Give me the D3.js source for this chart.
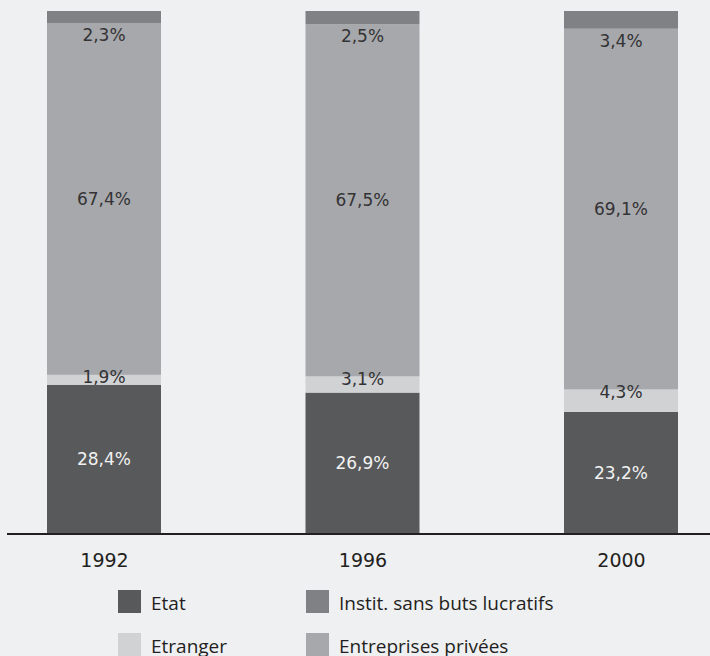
<!DOCTYPE html>
<html><head><meta charset="utf-8">
<script src="https://cdn.jsdelivr.net/npm/d3@7"></script>
<style>
html,body{margin:0;padding:0;background:#eff0f2;}
svg{display:block;}
</style></head>
<body>
<svg id="chart" width="710" height="656"></svg>
<script>
const years = ["1992", "1996", "2000"];
const etat = [28.4, 26.9, 23.2];
const etranger = [1.9, 3.1, 4.3];
const entreprises = [67.4, 67.5, 69.1];
const instit = [2.3, 2.5, 3.4];
const seriesNames = ["Etat", "Etranger", "Entreprises privées", "Instit. sans buts lucratifs"];
const colors = ["#58595b", "#d1d2d4", "#a7a8ab", "#808184"];

const rows = years.map((y, i) => ({
  year: y,
  "Etat": etat[i],
  "Etranger": etranger[i],
  "Entreprises privées": entreprises[i],
  "Instit. sans buts lucratifs": instit[i]
}));

const svg = d3.select("#chart");
const x = d3.scalePoint().domain(years).range([104, 621]);
const barW = 114;
const y = d3.scaleLinear().domain([0, 100]).range([533, 11]);
const stack = d3.stack().keys(seriesNames)(rows);
const fmt = v => d3.format(".1f")(v).replace(".", ",") + "%";
const font = "'DejaVu Sans', sans-serif";

stack.forEach((layer, li) => {
  const g = svg.append("g");
  g.selectAll("rect").data(layer).join("rect")
    .attr("x", d => x(d.data.year) - barW / 2)
    .attr("y", d => y(d[1]))
    .attr("width", barW)
    .attr("height", d => y(d[0]) - y(d[1]))
    .attr("fill", colors[li]);
});

stack.forEach((layer, li) => {
  const key = seriesNames[li];
  svg.append("g").selectAll("text").data(layer).join("text")
    .attr("x", d => x(d.data.year))
    .attr("y", d => {
      if (key === "Instit. sans buts lucratifs") return y(d[0]) + 12;
      if (key === "Etranger") return Math.min((y(d[0]) + y(d[1])) / 2, y(d[1]) + 2);
      return (y(d[0]) + y(d[1])) / 2;
    })
    .attr("dy", "0.36em")
    .attr("text-anchor", "middle")
    .attr("font-family", font)
    .attr("font-size", 17)
    .attr("fill", key === "Etat" ? "#f2f2f2" : "#333335")
    .text(d => fmt(d.data[key]));
});

// baseline
svg.append("line").attr("x1", 7).attr("x2", 710)
  .attr("y1", y(0) + 1).attr("y2", y(0) + 1)
  .attr("stroke", "#231f20").attr("stroke-width", 2);

// x axis labels
const xAxis = d3.axisBottom(x).tickSize(0).tickPadding(0);
const ax = svg.append("g").attr("transform", `translate(0,${y(0)})`).call(xAxis);
ax.select(".domain").remove();
ax.selectAll("text")
  .attr("y", 27).attr("dy", "0.36em")
  .attr("font-family", font).attr("font-size", 19).attr("fill", "#231f20");

// legend
const legendItems = [
  {name: "Etat", col: 0, row: 0, c: colors[0]},
  {name: "Instit. sans buts lucratifs", col: 1, row: 0, c: colors[3]},
  {name: "Etranger", col: 0, row: 1, c: colors[1]},
  {name: "Entreprises privées", col: 1, row: 1, c: colors[2]}
];
const lg = svg.append("g");
legendItems.forEach(it => {
  const lx = it.col === 0 ? 118 : 306;
  const ly = it.row === 0 ? 590 : 633;
  lg.append("rect").attr("x", lx).attr("y", ly).attr("width", 23).attr("height", 23).attr("fill", it.c);
  lg.append("text").attr("x", lx + 33).attr("y", ly + 13).attr("dy", "0.36em")
    .attr("font-family", "'Open Sans', sans-serif")
    .attr("font-size", 19).attr("fill", "#231f20").text(it.name);
});
</script>
</body></html>
